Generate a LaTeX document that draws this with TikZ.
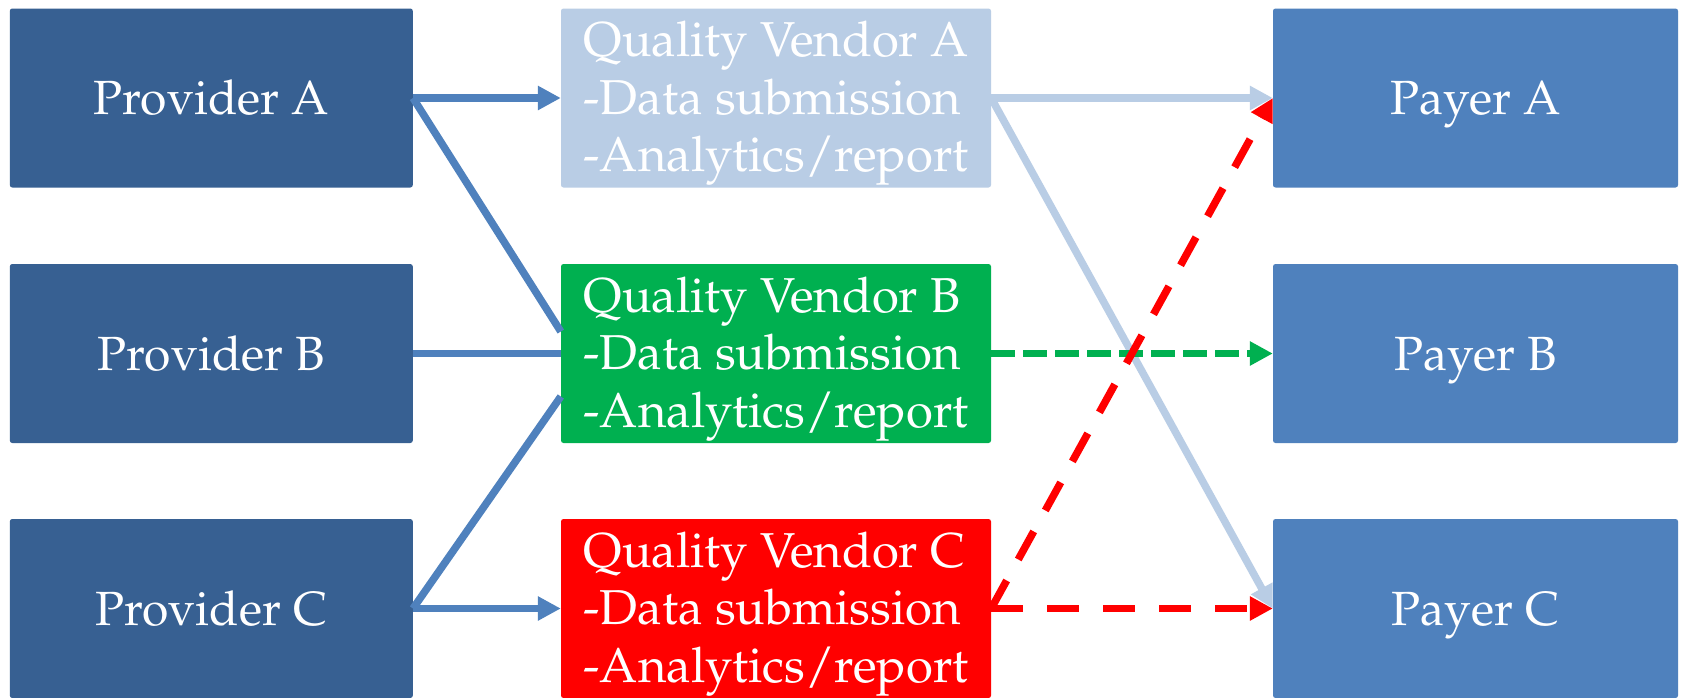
\documentclass[tikz,border=0pt]{standalone}
\usepackage[T1]{fontenc}
\usepackage{mathpazo}
\usetikzlibrary{arrows.meta,calc}
\definecolor{provblue}{RGB}{55,96,146}
\definecolor{payblue}{RGB}{79,129,189}
\definecolor{lightblue}{RGB}{185,205,229}
\definecolor{vgreen}{RGB}{0,176,80}
\definecolor{vred}{RGB}{255,0,0}
\begin{document}
\begin{tikzpicture}[x=1pt,y=-1pt,
  box/.style={rectangle, rounded corners=2.5pt, minimum height=179pt, text=white, inner sep=0pt},
  single/.style={box, font=\fontsize{48}{57.5}\selectfont, text height=44pt, text depth=11pt},
  prov/.style={single, fill=provblue, minimum width=403pt},
  vend/.style={box, minimum width=430pt, align=left, font=\fontsize{49}{57.5}\selectfont, text depth=3pt},
  pay/.style={single, fill=payblue, minimum width=405pt},
  tip/.style={-{Triangle[length=23pt,width=23pt]}},
  blueln/.style={draw=payblue, line width=7.5pt},
  lbln/.style={draw=lightblue, line width=7.5pt, tip},
  greenln/.style={draw=vgreen, line width=7pt, dash pattern=on 24pt off 8pt, tip},
  redln/.style={draw=vred, line width=7.5pt, dash pattern=on 32pt off 24pt, tip}]
\useasboundingbox[fill=white] (0,0) rectangle (1683,697);
\node[prov] (pA) at (211.3,98) {Provider A};
\node[prov] (pB) at (211.3,353.5) {Provider B};
\node[prov] (pC) at (211.3,608.5) {Provider C};
\node[vend, fill=lightblue] (vA) at (776,98) {Quality Vendor A\\-Data submission\\-Analytics/report};
\node[vend, fill=vgreen] (vB) at (776,353.5) {Quality Vendor B\\-Data submission\\-Analytics/report};
\node[vend, fill=vred] (vC) at (776,608.5) {Quality Vendor C\\-Data submission\\-Analytics/report};
\node[pay] (yA) at (1475.5,98) {Payer A};
\node[pay] (yB) at (1475.5,353.5) {Payer B};
\node[pay] (yC) at (1475.5,608.5) {Payer C};
\coordinate (bA) at ($(vB.west)+(0,-22)$);
\coordinate (bC) at ($(vB.west)+(0,43)$);
\draw[blueln, tip] (pA.east) -- (vA.west);
\draw[blueln] (pA.east) -- (bA);
\draw[blueln] (pB.east) -- (vB.west);
\draw[blueln] (pC.east) -- (bC);
\draw[blueln, tip] (pC.east) -- (vC.west);
\draw[lbln] (vA.east) -- (yC.west);
\draw[greenln] (vB.east) -- (yB.west);
\draw[redln] (vC.east) -- (yC.west);
\draw[redln] (vC.east) -- (yA.west);
\draw[lbln] (vA.east) -- (yA.west);
\end{tikzpicture}
\end{document}
